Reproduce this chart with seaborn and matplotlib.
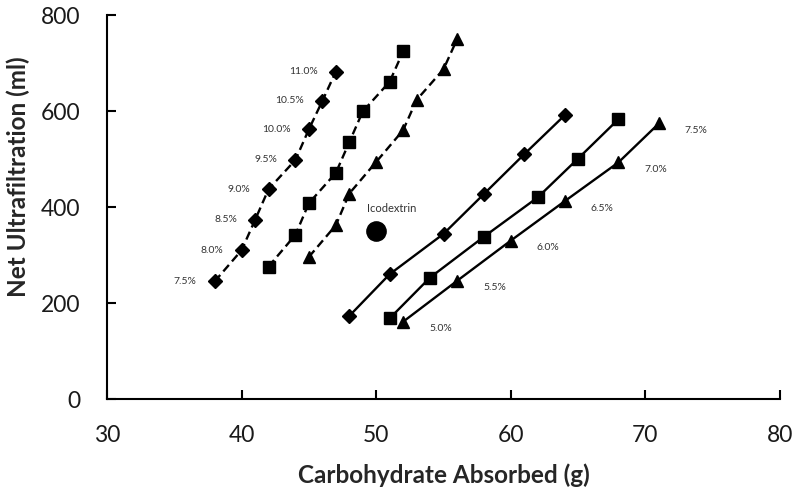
import matplotlib
matplotlib.use("Agg")
import matplotlib.pyplot as plt
import seaborn as sns
import pandas as pd

# Dashed series (left group)
dash_diamond_x = [38, 40, 41, 42, 44, 45, 46, 47]
dash_diamond_y = [245, 310, 373, 437, 498, 562, 621, 682]
dash_diamond_labels = ["7.5%", "8.0%", "8.5%", "9.0%", "9.5%", "10.0%", "10.5%", "11.0%"]

dash_square_x = [42, 44, 45, 47, 48, 49, 51, 52]
dash_square_y = [276, 342, 408, 471, 535, 599, 661, 724]

dash_triangle_x = [45, 47, 48, 50, 52, 53, 55, 56]
dash_triangle_y = [296, 362, 428, 494, 560, 623, 687, 749]

# Solid series (right group)
solid_diamond_x = [48, 51, 55, 58, 61, 64]
solid_diamond_y = [173, 260, 344, 427, 510, 591]

solid_square_x = [51, 54, 58, 62, 65, 68]
solid_square_y = [168, 253, 338, 420, 501, 583]

solid_triangle_x = [52, 56, 60, 64, 68, 71]
solid_triangle_y = [161, 246, 330, 412, 493, 574]
solid_labels = ["5.0%", "5.5%", "6.0%", "6.5%", "7.0%", "7.5%"]

icodextrin_x = [50]
icodextrin_y = [350]

font = "Lato"

sns.set_theme(style="white")
plt.rcParams['font.family'] = [font, 'DejaVu Sans']

fig = plt.figure(figsize=(8, 4.93), dpi=100)
ax = fig.add_axes([107/800, 1-399/493, (780-107)/800, (399-15)/493])

dash = (0, (3.6, 2))
series = [
    (dash_diamond_x, dash_diamond_y, "D", dash, 7),
    (dash_square_x, dash_square_y, "s", dash, 8.5),
    (dash_triangle_x, dash_triangle_y, "^", dash, 9),
    (solid_diamond_x, solid_diamond_y, "D", "-", 7),
    (solid_square_x, solid_square_y, "s", "-", 8.5),
    (solid_triangle_x, solid_triangle_y, "^", "-", 9),
]
for xs, ys, mk, ls, ms in series:
    df = pd.DataFrame({"x": xs, "y": ys})
    sns.lineplot(data=df, x="x", y="y", ax=ax, color="black", marker=mk,
                 markersize=ms, linewidth=1.7, linestyle=ls, markeredgecolor="black",
                 markeredgewidth=1, sort=False, legend=False)

sns.scatterplot(x=icodextrin_x, y=icodextrin_y, ax=ax, color="black", s=190,
                edgecolor="black", legend=False)
ax.annotate("Icodextrin", (icodextrin_x[0], icodextrin_y[0]), xytext=(11, 16.5),
            textcoords="offset points", ha="center", va="center", fontsize=8,
            color="#333333")

for x, y, t in zip(dash_diamond_x, dash_diamond_y, dash_diamond_labels):
    ax.annotate(t, (x, y), xytext=(-13, 0), textcoords="offset points",
                ha="right", va="center", fontsize=7.5, color="#333333")

for x, y, t in zip(solid_triangle_x, solid_triangle_y, solid_labels):
    ax.annotate(t, (x, y), xytext=(27, -5), textcoords="offset points",
                ha="center", va="center", fontsize=7.5, color="#333333")

ax.set_xlim(30, 80)
ax.set_ylim(0, 800)
ax.set_xticks([30, 40, 50, 60, 70, 80])
ax.set_yticks([0, 200, 400, 600, 800])
ax.set_xlabel("Carbohydrate Absorbed (g)", fontsize=17.5, fontweight="bold",
              va="center", ha="center")
ax.set_ylabel("Net Ultrafiltration (ml)", fontsize=17.5, fontweight="bold",
              va="center", ha="center")
ax.xaxis.set_label_coords(0.5, -0.198)
ax.yaxis.set_label_coords(-0.132, 0.578)
ax.tick_params(axis="both", labelsize=16.5, direction="in", length=6.5, width=1.5,
               colors="black", pad=19, left=True, bottom=True)
ax.tick_params(axis="both", labelcolor="#1a1a1a")
for s in ["top", "right"]:
    ax.spines[s].set_visible(False)
for s in ["left", "bottom"]:
    ax.spines[s].set_color("black")
    ax.spines[s].set_linewidth(1.5)

fig.savefig("out.png", dpi=100)
